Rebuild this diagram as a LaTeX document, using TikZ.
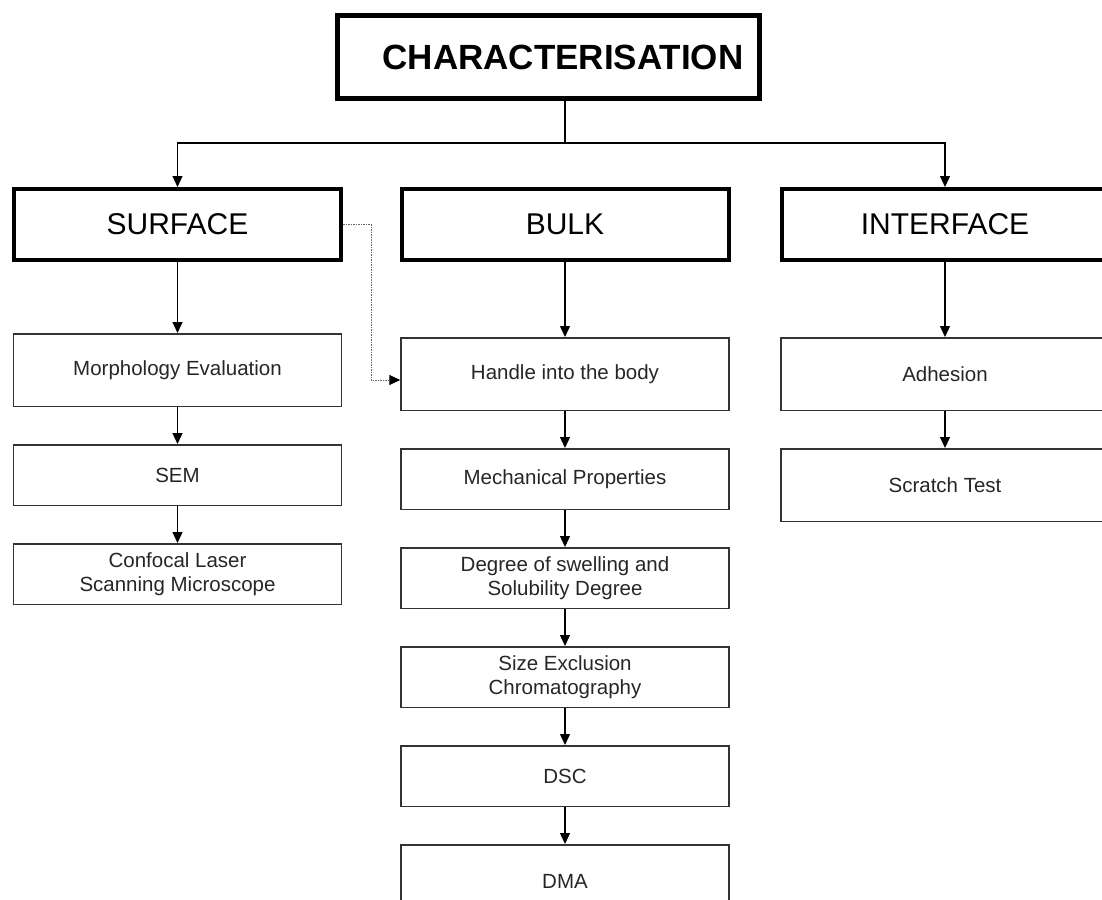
\documentclass[tikz,border=0pt]{standalone}
\usepackage{fontspec}
\setmainfont{Liberation Sans}
\usepackage{tikz}
\usetikzlibrary{arrows.meta, positioning}

\begin{document}
\begin{tikzpicture}[
    x=1pt, y=-1pt,
    node distance=37pt,
    rootnode/.style={rectangle, draw=black, line width=5pt, minimum width=422pt, minimum height=83pt, inner sep=0pt, font=\fontsize{35}{40}\selectfont\bfseries},
    groupnode/.style={rectangle, draw=black, line width=4pt, minimum width=327pt, minimum height=71pt, inner sep=0pt, font=\fontsize{30}{36}\selectfont},
    leafnode/.style={rectangle, draw=black!80, line width=1.5pt, text=black!85, minimum width=328pt, minimum height=60.5pt, inner sep=0pt, align=center, font=\fontsize{20.5}{23.5}\selectfont},
    tall/.style={minimum height=72.5pt},
    arr/.style={-{Triangle[length=11pt, width=10pt]}, line width=1.3pt, black},
    linkarr/.style={-{Triangle[length=11pt, width=10pt, color=black]}, line width=1pt, black!60, dash pattern=on 1.5pt off 1pt}
]
\useasboundingbox (0,0) rectangle (1102,899);
\clip (0,0) rectangle (1102,899);

% Root
\node[rootnode] (char) at (548.5,57) {\hspace*{29pt}CHARACTERISATION};

% Three groups
\node[groupnode] (surface) at (177.5,224.5) {SURFACE};
\node[groupnode] (bulk) at (565,224.5) {BULK};
\node[groupnode] (interface) at (945,224.5) {INTERFACE};

\coordinate (split) at (565,143);
\draw[line width=1.3pt] (char.south -| bulk) -- (split);
\draw[arr] (split) -| (surface);
\draw[arr] (split) -| (interface);

% Surface leaves
\node[leafnode, tall, below=71pt of surface] (morph) {Morphology Evaluation};
\node[leafnode, below=of morph] (sem) {SEM};
\node[leafnode, below=of sem] (clsm) {Confocal Laser\\Scanning Microscope};

\draw[arr] (surface) -- (morph);
\draw[arr] (morph) -- (sem);
\draw[arr] (sem) -- (clsm);

% Bulk leaves
\node[leafnode, tall, below=75pt of bulk] (handle) {Handle into the body};
\node[leafnode, below=of handle] (mech) {Mechanical Properties};
\node[leafnode, below=of mech] (swell) {Degree of swelling and\\Solubility Degree};
\node[leafnode, below=of swell] (sec) {Size Exclusion\\Chromatography};
\node[leafnode, below=of sec] (dsc) {DSC};
\node[leafnode, tall, below=of dsc] (dma) {DMA};

\draw[arr] (bulk) -- (handle);
\draw[arr] (handle) -- (mech);
\draw[arr] (mech) -- (swell);
\draw[arr] (swell) -- (sec);
\draw[arr] (sec) -- (dsc);
\draw[arr] (dsc) -- (dma);

% Interface leaves
\node[leafnode, tall, below=75pt of interface] (adhesion) {Adhesion};
\node[leafnode, tall, below=of adhesion] (scratch) {Scratch Test};

\draw[arr] (interface) -- (adhesion);
\draw[arr] (adhesion) -- (scratch);

% Surface to bulk link
\draw[linkarr] (surface.east) -- ++(28,0) |- ([yshift=-6pt]handle.west);

\end{tikzpicture}
\end{document}
